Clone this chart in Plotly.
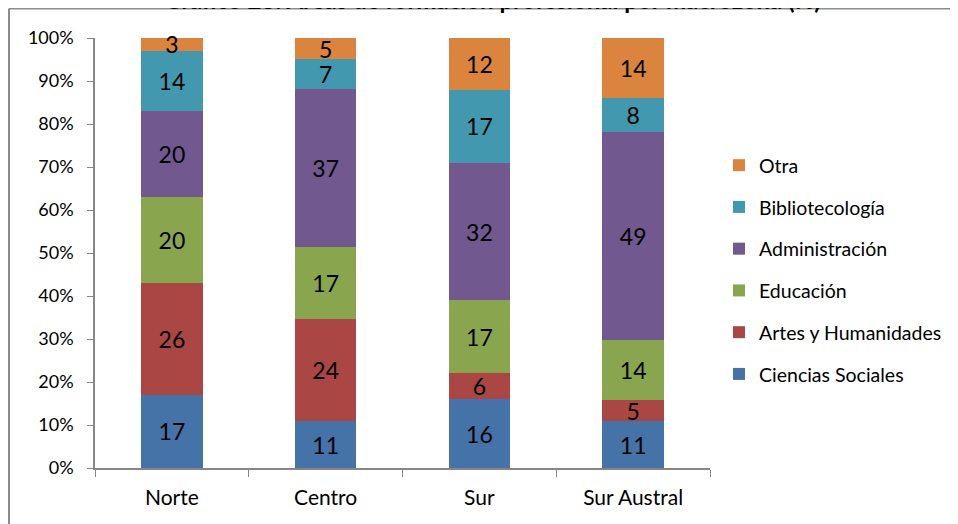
import plotly.graph_objects as go

categories = ["Norte", "Centro", "Sur", "Sur Austral"]
series_names = ["Ciencias Sociales", "Artes y Humanidades", "Educación",
                "Administración", "Bibliotecología", "Otra"]
ciencias_sociales = [17, 11, 16, 11]
artes_humanidades = [26, 24, 6, 5]
educacion = [20, 17, 17, 14]
administracion = [20, 37, 32, 49]
bibliotecologia = [14, 7, 17, 8]
otra = [3, 5, 12, 14]
y_ticks = [0, 10, 20, 30, 40, 50, 60, 70, 80, 90, 100]
y_tick_labels = ["0%", "10%", "20%", "30%", "40%", "50%", "60%", "70%", "80%", "90%", "100%"]
title_text = "Gráfico 23: Áreas de formación profesional por macrozona (%)"

series_values = [ciencias_sociales, artes_humanidades, educacion,
                 administracion, bibliotecologia, otra]
colors = ["#4572A7", "#AA4643", "#89A54E", "#71588F", "#4198AF", "#DB843D"]

FONT = "Lato"

fig = go.Figure()
n = len(series_names)
for i, (name, vals, col) in enumerate(zip(series_names, series_values, colors)):
    fig.add_trace(go.Bar(
        name=name, x=categories, y=vals, marker_color=col,
        marker_line_width=0,
        text=[str(v) for v in vals], textposition="inside", textangle=0,
        insidetextanchor="middle", constraintext="none",
        textfont=dict(family=FONT, size=23, color="black"),
        cliponaxis=False, legendgroup=name, legendrank=n - i,
    ))

# page is offset by 8px body margin; coordinates below are figure coords
OFF = 8
L, T = 95 - OFF, 38 - OFF
pw, ph = 615, 430
W, H = 958 - OFF, 524 - OFF
R, B = W - L - pw, H - T - ph

fig.update_layout(
    width=W, height=H, barmode="stack", barnorm="percent", bargap=0.6,
    margin=dict(l=L, r=R, t=T, b=B, autoexpand=False),
    paper_bgcolor="white", plot_bgcolor="white",
    font=dict(family=FONT, size=16, color="black"),
    showlegend=True,
    legend=dict(x=(719 - OFF - L) / pw, xanchor="left",
                y=1 - (146 - OFF - T) / ph,
                yanchor="top", traceorder="grouped",
                tracegroupgap=13.4, font=dict(family=FONT, size=19.5),
                itemwidth=30, bgcolor="rgba(0,0,0,0)"),
    xaxis=dict(showline=True, linecolor="#868686", linewidth=1.5,
               ticks="outside", tickson="boundaries", ticklen=7,
               tickcolor="#868686", tickfont=dict(size=21), showgrid=False,
               ticklabelstandoff=10),
    yaxis=dict(range=[0, 100], tickvals=y_ticks, ticktext=y_tick_labels,
               showline=True, linecolor="#868686", linewidth=1.5,
               ticks="outside", ticklen=6, tickcolor="#868686",
               showgrid=False, zeroline=False, tickfont=dict(size=18),
               ticklabelstandoff=10),
)

# chart border (top and left visible)
bx = (8 - OFF - L) / pw + 1 / pw
by = 1 + (T - (8.5 - OFF)) / ph
fig.add_shape(type="line", xref="paper", yref="paper",
              x0=bx, x1=(W - L) / pw, y0=by, y1=by,
              line=dict(color="#8c8c8c", width=2))
fig.add_shape(type="line", xref="paper", yref="paper",
              x0=bx, x1=bx, y0=by, y1=-(B + 5) / ph,
              line=dict(color="#8c8c8c", width=2))

fig.add_annotation(text="<b>" + title_text + "</b>", xref="paper", yref="paper",
                   x=(492 - OFF - L) / pw, y=1 + (T - 8) / ph, xanchor="center",
                   yanchor="bottom", showarrow=False,
                   font=dict(family=FONT, size=24, color="black"))

fig.write_html("out.html")
